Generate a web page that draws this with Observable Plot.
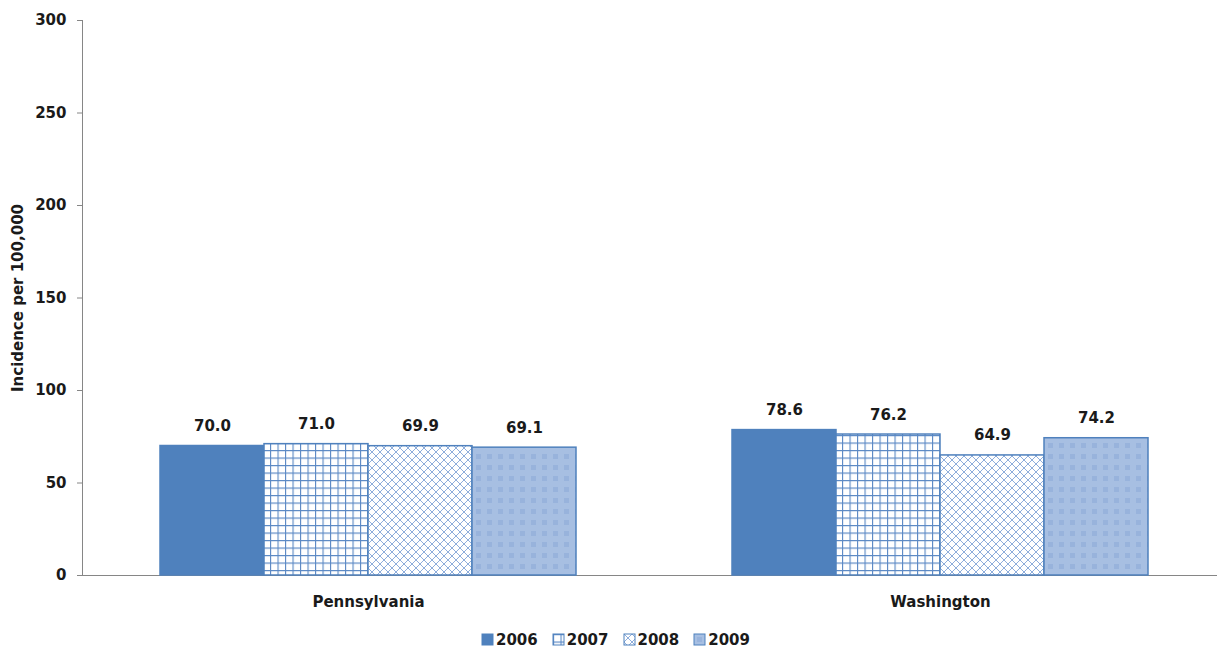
<!DOCTYPE html>
<html><head><meta charset="utf-8">
<script src="https://cdn.jsdelivr.net/npm/d3@7"></script>
<script src="https://cdn.jsdelivr.net/npm/@observablehq/plot@0.6"></script>
<style>
body{margin:0;background:#fff;font-family:"DejaVu Sans";overflow:hidden}
#legend{display:flex;justify-content:center;margin-top:3px;padding-left:30px}
#legend > div{justify-content:center}
#legend span{margin-right:15px !important}
#legend span svg{margin-right:3px !important;stroke:#4f81bd;stroke-width:1}
</style></head><body><div id="chart"></div><div id="legend"></div>
<script>
const states = ["Pennsylvania", "Washington"];
const years = ["2006", "2007", "2008", "2009"];
const pennsylvania = [70.0, 71.0, 69.9, 69.1];
const washington = [78.6, 76.2, 64.9, 74.2];
const yTicks = [0, 50, 100, 150, 200, 250, 300];
const fills = ["#4f81bd", "url(#p2007)", "url(#p2008)", "url(#p2009)"];

const data = [
  ...years.map((y, i) => ({state: states[0], year: y, value: pennsylvania[i]})),
  ...years.map((y, i) => ({state: states[1], year: y, value: washington[i]}))
];

const chart = Plot.plot({
  width: 1217, height: 620,
  marginTop: 20, marginBottom: 45, marginLeft: 82, marginRight: -9,
  style: {fontFamily: "DejaVu Sans", fontSize: "15px", fontWeight: "bold", color: "#1a1a1a", background: "white", overflow: "hidden"},
  fx: {domain: states, padding: 0, label: null},
  x: {domain: years, paddingInner: 0, paddingOuter: 0.75, axis: null},
  y: {domain: [0, 300]},
  color: {type: "ordinal", domain: years, range: fills},
  marks: [
    Plot.frame({anchor: "left", stroke: "#868686", facetAnchor: "left"}),
    Plot.ruleY([0], {stroke: "#868686"}),
    Plot.axisY({ticks: yTicks, tickSize: 5, tickPadding: 11, stroke: "#868686", fill: "#1a1a1a",
      label: "Incidence per 100,000", labelAnchor: "center", labelOffset: 70, labelArrow: "none"}),
    Plot.axisFx({anchor: "bottom", tickSize: 0, tickPadding: 21, label: null, fill: "#1a1a1a"}),
    Plot.barY(data, {fx: "state", x: "year", y: "value", fill: "year", stroke: "#4f81bd", strokeWidth: 1.5}),
    Plot.text(data, {fx: "state", x: "year", y: "value", text: d => d.value.toFixed(1),
      lineAnchor: "bottom", dy: -15, fontSize: 15, fontWeight: "bold", fill: "#1a1a1a"})
  ]
});

chart.insertAdjacentHTML("afterbegin", `<defs>
<pattern id="p2007" patternUnits="userSpaceOnUse" width="7.5" height="7.5">
<rect width="7.5" height="7.5" fill="#fff"/>
<path d="M0.5 0V7.5M0 0.5H7.5" stroke="#5a88c4" stroke-width="1.2"/>
</pattern>
<pattern id="p2008" patternUnits="userSpaceOnUse" width="8" height="8">
<rect width="8" height="8" fill="#fff"/>
<path d="M0 0L8 8M8 0L0 8" stroke="#8eaddb" stroke-width="1"/>
</pattern>
<pattern id="p2009" patternUnits="userSpaceOnUse" width="11" height="11">
<rect width="11" height="11" fill="#a7bfe2"/>
<rect x="3" y="3" width="5" height="5" fill="#98b3dc"/>
</pattern>
</defs>`);

document.getElementById("chart").appendChild(chart);

const legend = Plot.legend({
  color: {type: "ordinal", domain: years, range: fills},
  swatchSize: 11,
  style: {fontFamily: "DejaVu Sans", fontSize: "15px", fontWeight: "bold", color: "#1a1a1a"}
});
document.getElementById("legend").appendChild(legend);
</script>
</body></html>
